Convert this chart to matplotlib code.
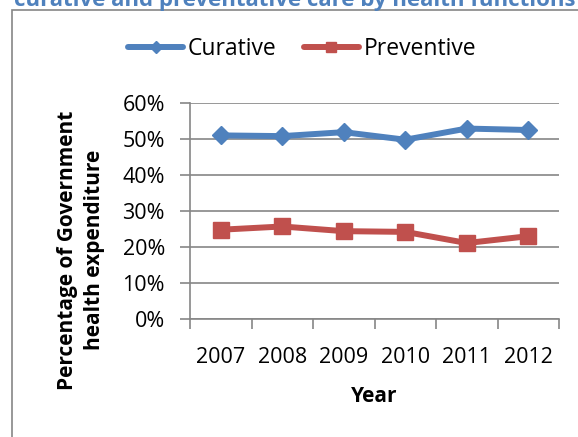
import matplotlib.pyplot as plt
from matplotlib.patches import Rectangle
from matplotlib.ticker import PercentFormatter

# 数据
years = ['2007', '2008', '2009', '2010', '2011', '2012']
curative = [51.0, 50.8, 51.9, 49.8, 52.9, 52.5]
preventive = [24.8, 25.7, 24.4, 24.2, 21.1, 23.0]

plt.rcParams['font.family'] = ['Open Sans', 'DejaVu Sans']
W, H = 578, 437
fig = plt.figure(figsize=(W / 100, H / 100), dpi=100)

# 外框
fig.patches.append(Rectangle((12 / W, -0.1), 1.2, 1 - 10 / H + 0.1,
                             transform=fig.transFigure, fill=False,
                             edgecolor='#868686', linewidth=1.2))
# 被截掉的标题
fig.text(14 / W, 1 - 6 / H, 'curative and preventative care by health functions',
         color='#4F81BD', fontsize=16, fontweight='bold', va='baseline')

ax = fig.add_axes([190 / W, 1 - 319 / H, (559 - 190) / W, (319 - 103) / H])
x = list(range(len(years)))
ax.plot(x, curative, color='#4F81BD', lw=4.3, marker='D', ms=9.5,
        label='Curative', solid_joinstyle='round', solid_capstyle='round')
ax.plot(x, preventive, color='#C0504D', lw=4.3, marker='s', ms=11,
        label='Preventive', solid_joinstyle='round', solid_capstyle='round')

ax.set_xlim(-0.5, len(years) - 0.5)
ax.set_ylim(0, 60)
ax.set_yticks(range(0, 61, 10))
ax.yaxis.set_major_formatter(PercentFormatter(decimals=0))
ax.set_xticks(x)
ax.set_xticklabels(years)
ax.set_xticks([i - 0.5 for i in range(len(years) + 1)], minor=True)
ax.tick_params(axis='x', which='major', length=0, pad=20, labelsize=15.5)
ax.tick_params(axis='x', which='minor', length=7, color='#868686', width=1.2)
ax.tick_params(axis='y', length=7, color='#868686', width=1.2, pad=11, labelsize=15.5)
ax.grid(axis='y', color='#868686', lw=1.2)
ax.set_axisbelow(True)
for s in ['top', 'right']:
    ax.spines[s].set_visible(False)
ax.spines['left'].set_color('#868686')
ax.spines['left'].set_linewidth(1.2)
ax.spines['bottom'].set_color('#868686')
ax.spines['bottom'].set_linewidth(1.2)

ax.set_xlabel('Year', fontsize=15, fontweight='bold', labelpad=13)
fig.text(81 / W, 1 - 250 / H, 'Percentage of Government\nhealth expenditure',
         fontsize=15, fontweight='bold', rotation=90, ha='center', va='center',
         linespacing=1.4, multialignment='center')

fig.legend(loc='center left', bbox_to_anchor=(128 / W, 1 - 49 / H), ncol=2,
           frameon=False, fontsize=16.5, handlelength=2.4, columnspacing=1.2,
           handletextpad=0.2, markerscale=0.6, borderaxespad=0, borderpad=0)

fig.savefig('out.png', dpi=100)
